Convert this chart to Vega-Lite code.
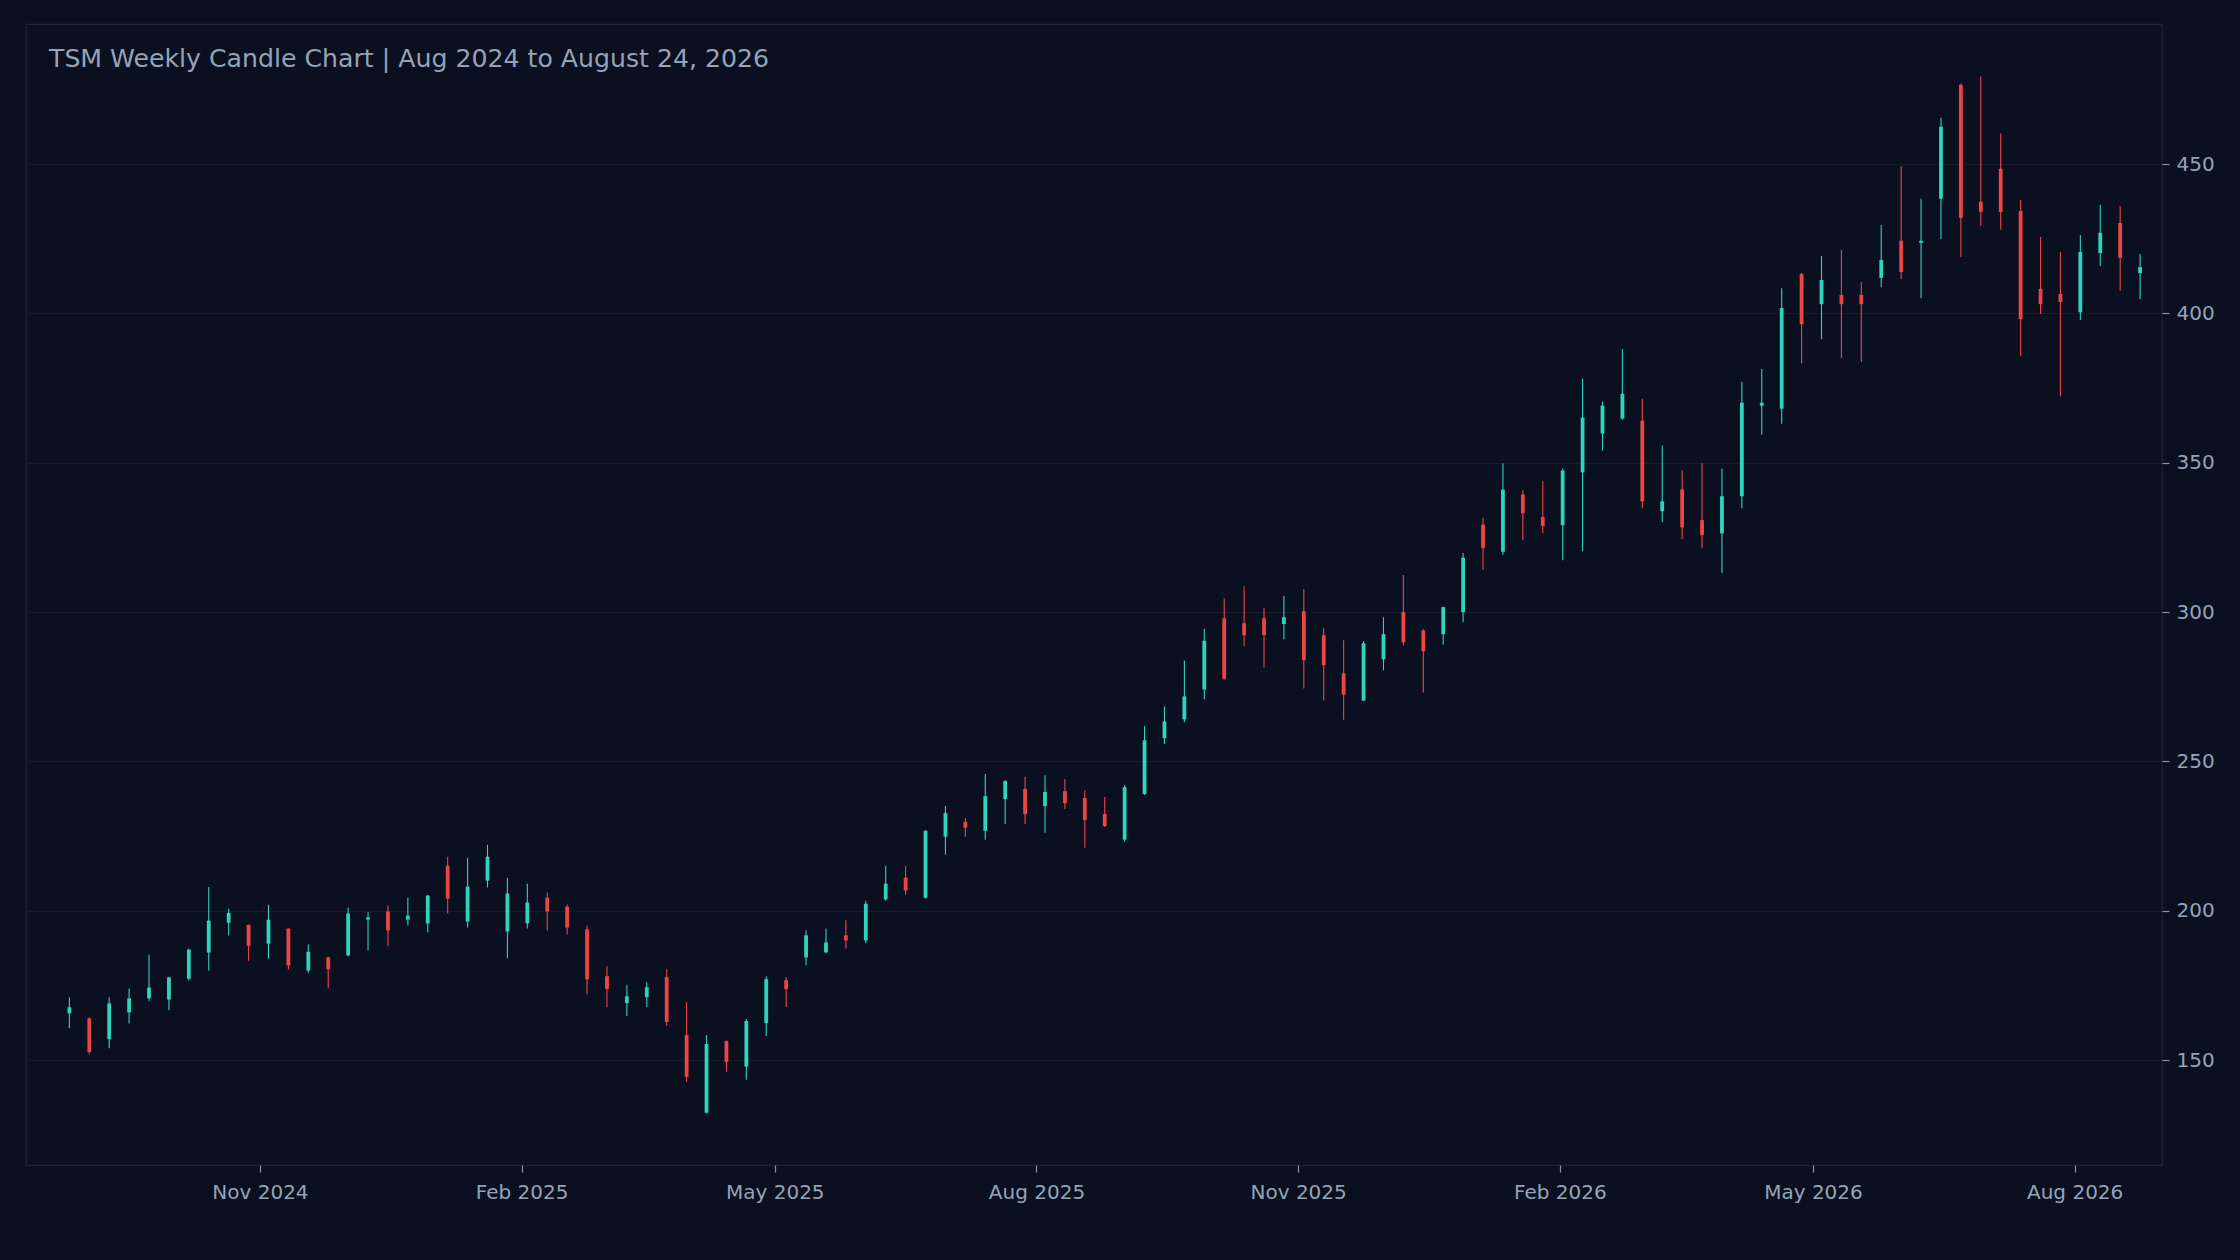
{
  "$schema": "https://vega.github.io/schema/vega-lite/v6.json",
  "width": 2136,
  "height": 1141,
  "autosize": {"type": "none"},
  "padding": {"left": 26, "top": 24, "right": 78, "bottom": 95},
  "background": "#0b1020",
  "title": {
    "text": "TSM Weekly Candle Chart | Aug 2024 to August 24, 2026",
    "anchor": "start",
    "frame": "group",
    "orient": "top",
    "offset": 0,
    "dx": 23,
    "dy": 68,
    "baseline": "alphabetic",
    "fontSize": 25.2,
    "font": "DejaVu Sans",
    "fontWeight": "normal",
    "color": "#94a3b8"
  },
  "data": {
    "values": [
      {"d": "2024-08-26", "o": 165.7, "h": 171.0, "l": 160.7, "c": 167.7},
      {"d": "2024-09-02", "o": 164.0, "h": 164.3, "l": 152.0, "c": 152.7},
      {"d": "2024-09-09", "o": 157.0, "h": 171.0, "l": 154.0, "c": 169.0},
      {"d": "2024-09-16", "o": 166.0, "h": 174.0, "l": 162.3, "c": 170.7},
      {"d": "2024-09-23", "o": 170.7, "h": 185.3, "l": 169.7, "c": 174.3},
      {"d": "2024-09-30", "o": 170.3, "h": 177.9, "l": 166.7, "c": 177.7},
      {"d": "2024-10-07", "o": 177.3, "h": 187.3, "l": 176.7, "c": 187.0},
      {"d": "2024-10-14", "o": 186.0, "h": 208.0, "l": 180.0, "c": 196.7},
      {"d": "2024-10-21", "o": 196.0, "h": 200.7, "l": 191.7, "c": 199.3},
      {"d": "2024-10-28", "o": 195.3, "h": 195.5, "l": 183.3, "c": 188.3},
      {"d": "2024-11-04", "o": 189.0, "h": 202.0, "l": 184.0, "c": 197.0},
      {"d": "2024-11-11", "o": 194.0, "h": 194.2, "l": 180.3, "c": 181.7},
      {"d": "2024-11-18", "o": 180.0, "h": 188.7, "l": 179.3, "c": 186.3},
      {"d": "2024-11-25", "o": 184.4, "h": 184.6, "l": 174.1, "c": 180.4},
      {"d": "2024-12-02", "o": 185.1, "h": 201.1, "l": 184.8, "c": 199.1},
      {"d": "2024-12-09", "o": 197.1, "h": 199.4, "l": 186.8, "c": 197.8},
      {"d": "2024-12-16", "o": 199.8, "h": 201.8, "l": 188.1, "c": 193.4},
      {"d": "2024-12-23", "o": 197.1, "h": 204.4, "l": 195.1, "c": 198.4},
      {"d": "2024-12-30", "o": 195.8, "h": 205.3, "l": 192.8, "c": 205.1},
      {"d": "2025-01-06", "o": 215.1, "h": 218.1, "l": 199.1, "c": 204.1},
      {"d": "2025-01-13", "o": 196.4, "h": 217.8, "l": 194.4, "c": 208.1},
      {"d": "2025-01-20", "o": 210.1, "h": 222.1, "l": 207.8, "c": 218.1},
      {"d": "2025-01-27", "o": 193.1, "h": 211.1, "l": 184.1, "c": 205.8},
      {"d": "2025-02-03", "o": 195.8, "h": 209.1, "l": 194.1, "c": 202.8},
      {"d": "2025-02-10", "o": 204.4, "h": 206.1, "l": 193.4, "c": 199.8},
      {"d": "2025-02-17", "o": 201.4, "h": 202.1, "l": 192.1, "c": 194.4},
      {"d": "2025-02-24", "o": 193.8, "h": 195.1, "l": 172.1, "c": 177.1},
      {"d": "2025-03-03", "o": 178.1, "h": 181.4, "l": 167.8, "c": 173.8},
      {"d": "2025-03-10", "o": 169.1, "h": 175.1, "l": 164.8, "c": 171.4},
      {"d": "2025-03-17", "o": 171.1, "h": 176.1, "l": 167.8, "c": 174.4},
      {"d": "2025-03-24", "o": 177.8, "h": 180.4, "l": 161.4, "c": 162.8},
      {"d": "2025-03-31", "o": 158.4, "h": 169.4, "l": 142.8, "c": 144.4},
      {"d": "2025-04-07", "o": 132.4, "h": 158.4, "l": 132.1, "c": 155.4},
      {"d": "2025-04-14", "o": 156.4, "h": 156.6, "l": 146.1, "c": 149.4},
      {"d": "2025-04-21", "o": 147.8, "h": 163.8, "l": 143.4, "c": 163.1},
      {"d": "2025-04-28", "o": 162.4, "h": 178.1, "l": 158.1, "c": 177.1},
      {"d": "2025-05-05", "o": 176.8, "h": 177.8, "l": 167.8, "c": 173.8},
      {"d": "2025-05-12", "o": 184.4, "h": 193.4, "l": 181.8, "c": 191.8},
      {"d": "2025-05-19", "o": 186.1, "h": 194.1, "l": 185.8, "c": 189.4},
      {"d": "2025-05-26", "o": 191.8, "h": 196.8, "l": 187.4, "c": 190.1},
      {"d": "2025-06-02", "o": 190.1, "h": 203.4, "l": 189.1, "c": 202.4},
      {"d": "2025-06-09", "o": 203.8, "h": 215.1, "l": 203.4, "c": 209.1},
      {"d": "2025-06-16", "o": 211.1, "h": 215.1, "l": 205.4, "c": 206.8},
      {"d": "2025-06-23", "o": 204.4, "h": 226.9, "l": 204.1, "c": 226.8},
      {"d": "2025-06-30", "o": 224.8, "h": 235.1, "l": 218.8, "c": 232.8},
      {"d": "2025-07-07", "o": 229.8, "h": 231.1, "l": 224.8, "c": 227.8},
      {"d": "2025-07-14", "o": 226.8, "h": 245.8, "l": 223.8, "c": 238.4},
      {"d": "2025-07-21", "o": 237.4, "h": 243.8, "l": 229.1, "c": 243.4},
      {"d": "2025-07-28", "o": 240.8, "h": 244.8, "l": 229.1, "c": 232.4},
      {"d": "2025-08-04", "o": 235.1, "h": 245.4, "l": 226.1, "c": 239.8},
      {"d": "2025-08-11", "o": 240.1, "h": 244.1, "l": 234.1, "c": 236.1},
      {"d": "2025-08-18", "o": 237.8, "h": 240.4, "l": 221.1, "c": 230.4},
      {"d": "2025-08-25", "o": 232.4, "h": 238.1, "l": 228.1, "c": 228.4},
      {"d": "2025-09-01", "o": 223.8, "h": 242.1, "l": 223.1, "c": 241.4},
      {"d": "2025-09-08", "o": 239.1, "h": 261.8, "l": 238.8, "c": 257.1},
      {"d": "2025-09-15", "o": 257.8, "h": 268.4, "l": 255.8, "c": 263.4},
      {"d": "2025-09-22", "o": 264.1, "h": 283.8, "l": 263.1, "c": 271.8},
      {"d": "2025-09-29", "o": 274.1, "h": 294.4, "l": 270.8, "c": 290.4},
      {"d": "2025-10-06", "o": 297.9, "h": 304.6, "l": 277.4, "c": 277.7},
      {"d": "2025-10-13", "o": 296.3, "h": 308.7, "l": 288.6, "c": 292.3},
      {"d": "2025-10-20", "o": 297.9, "h": 301.3, "l": 281.5, "c": 292.3},
      {"d": "2025-10-27", "o": 296.0, "h": 305.4, "l": 290.9, "c": 298.3},
      {"d": "2025-11-03", "o": 300.3, "h": 307.7, "l": 274.4, "c": 283.9},
      {"d": "2025-11-10", "o": 292.3, "h": 294.6, "l": 270.4, "c": 282.2},
      {"d": "2025-11-17", "o": 279.5, "h": 290.6, "l": 264.0, "c": 272.4},
      {"d": "2025-11-24", "o": 270.4, "h": 290.3, "l": 270.3, "c": 289.6},
      {"d": "2025-12-01", "o": 284.2, "h": 298.3, "l": 280.5, "c": 292.6},
      {"d": "2025-12-08", "o": 300.0, "h": 312.4, "l": 288.9, "c": 289.9},
      {"d": "2025-12-15", "o": 293.9, "h": 294.3, "l": 273.1, "c": 286.9},
      {"d": "2025-12-22", "o": 292.6, "h": 301.8, "l": 289.2, "c": 301.7},
      {"d": "2025-12-29", "o": 300.0, "h": 319.8, "l": 296.6, "c": 318.2},
      {"d": "2026-01-05", "o": 329.3, "h": 331.6, "l": 314.1, "c": 321.5},
      {"d": "2026-01-12", "o": 320.2, "h": 349.8, "l": 319.2, "c": 341.0},
      {"d": "2026-01-19", "o": 339.4, "h": 340.8, "l": 324.1, "c": 333.1},
      {"d": "2026-01-26", "o": 331.8, "h": 343.8, "l": 326.4, "c": 328.8},
      {"d": "2026-02-02", "o": 329.1, "h": 348.1, "l": 317.4, "c": 347.4},
      {"d": "2026-02-09", "o": 346.8, "h": 378.1, "l": 320.4, "c": 365.1},
      {"d": "2026-02-16", "o": 359.8, "h": 370.4, "l": 354.1, "c": 369.1},
      {"d": "2026-02-23", "o": 364.8, "h": 388.1, "l": 364.4, "c": 373.1},
      {"d": "2026-03-02", "o": 364.1, "h": 371.4, "l": 334.8, "c": 337.1},
      {"d": "2026-03-09", "o": 333.8, "h": 355.8, "l": 330.1, "c": 337.1},
      {"d": "2026-03-16", "o": 341.1, "h": 347.4, "l": 324.4, "c": 328.4},
      {"d": "2026-03-23", "o": 330.8, "h": 349.8, "l": 321.4, "c": 325.8},
      {"d": "2026-03-30", "o": 326.4, "h": 348.1, "l": 313.1, "c": 338.8},
      {"d": "2026-04-06", "o": 338.8, "h": 377.1, "l": 334.8, "c": 370.1},
      {"d": "2026-04-13", "o": 369.1, "h": 381.4, "l": 359.4, "c": 370.1},
      {"d": "2026-04-20", "o": 368.1, "h": 408.4, "l": 363.1, "c": 401.8},
      {"d": "2026-04-27", "o": 413.2, "h": 413.5, "l": 383.3, "c": 396.4},
      {"d": "2026-05-04", "o": 403.1, "h": 419.2, "l": 391.4, "c": 411.2},
      {"d": "2026-05-11", "o": 406.2, "h": 421.3, "l": 385.0, "c": 403.1},
      {"d": "2026-05-18", "o": 406.2, "h": 410.5, "l": 383.7, "c": 403.1},
      {"d": "2026-05-25", "o": 411.9, "h": 429.6, "l": 408.8, "c": 417.9},
      {"d": "2026-06-01", "o": 424.3, "h": 449.4, "l": 411.5, "c": 413.9},
      {"d": "2026-06-08", "o": 423.6, "h": 438.4, "l": 405.1, "c": 424.3},
      {"d": "2026-06-15", "o": 438.4, "h": 465.5, "l": 424.9, "c": 462.5},
      {"d": "2026-06-22", "o": 476.6, "h": 477.0, "l": 418.9, "c": 432.0},
      {"d": "2026-06-29", "o": 437.4, "h": 479.3, "l": 429.3, "c": 434.0},
      {"d": "2026-07-06", "o": 448.4, "h": 460.2, "l": 428.0, "c": 434.0},
      {"d": "2026-07-13", "o": 434.3, "h": 438.0, "l": 385.7, "c": 398.1},
      {"d": "2026-07-20", "o": 408.2, "h": 425.6, "l": 399.8, "c": 403.1},
      {"d": "2026-07-27", "o": 406.5, "h": 420.6, "l": 372.3, "c": 403.8},
      {"d": "2026-08-03", "o": 400.4, "h": 426.3, "l": 397.8, "c": 420.6},
      {"d": "2026-08-10", "o": 420.2, "h": 436.4, "l": 415.9, "c": 427.0},
      {"d": "2026-08-17", "o": 430.3, "h": 436.0, "l": 407.5, "c": 418.6},
      {"d": "2026-08-24", "o": 413.5, "h": 419.9, "l": 404.8, "c": 415.5}
    ]
  },
  "encoding": {
    "x": {
      "field": "d",
      "type": "temporal",
      "scale": {
        "type": "utc",
        "padding": 0,
        "domain": [
          {"year": 2024, "month": "aug", "date": 10, "hours": 18, "utc": true},
          {"year": 2026, "month": "aug", "date": 31, "hours": 17, "utc": true}
        ]
      },
      "axis": {
        "title": null,
        "orient": "bottom",
        "format": "%b %Y",
        "values": [
          {"year": 2024, "month": "nov", "date": 1, "utc": true},
          {"year": 2025, "month": "feb", "date": 1, "utc": true},
          {"year": 2025, "month": "may", "date": 1, "utc": true},
          {"year": 2025, "month": "aug", "date": 1, "utc": true},
          {"year": 2025, "month": "nov", "date": 1, "utc": true},
          {"year": 2026, "month": "feb", "date": 1, "utc": true},
          {"year": 2026, "month": "may", "date": 1, "utc": true},
          {"year": 2026, "month": "aug", "date": 1, "utc": true}
        ],
        "grid": false,
        "domain": false,
        "ticks": true,
        "tickSize": 7,
        "tickWidth": 1.2,
        "tickColor": "#8b93a5",
        "labelColor": "#94a3b8",
        "labelFont": "DejaVu Sans",
        "labelFontSize": 20,
        "labelPadding": 10,
        "labelFlush": false,
        "labelOverlap": false
      }
    },
    "color": {
      "condition": {"test": "datum.c >= datum.o", "value": "#2dd4bf"},
      "value": "#ef4444"
    }
  },
  "layer": [
    {
      "mark": {"type": "rule", "strokeWidth": 1.1},
      "encoding": {
        "y": {
          "field": "l",
          "type": "quantitative",
          "scale": {"domain": [114.9, 496.9], "nice": false, "zero": false, "padding": 0},
          "axis": {
            "title": null,
            "orient": "right",
            "values": [150, 200, 250, 300, 350, 400, 450],
            "grid": true,
            "gridColor": "#151b2b",
            "gridWidth": 1,
            "domain": false,
            "tickSize": 7,
            "tickWidth": 1.2,
            "tickColor": "#8b93a5",
            "labelColor": "#94a3b8",
            "labelFont": "DejaVu Sans",
            "labelFontSize": 20,
            "labelPadding": 7
          }
        },
        "y2": {"field": "h"}
      }
    },
    {
      "mark": {"type": "bar", "size": 3.8},
      "encoding": {
        "y": {"field": "o", "type": "quantitative"},
        "y2": {"field": "c"}
      }
    }
  ],
  "config": {
    "view": {"stroke": "#1e2436", "strokeWidth": 1.2, "fill": "#0b1020"}
  }
}
